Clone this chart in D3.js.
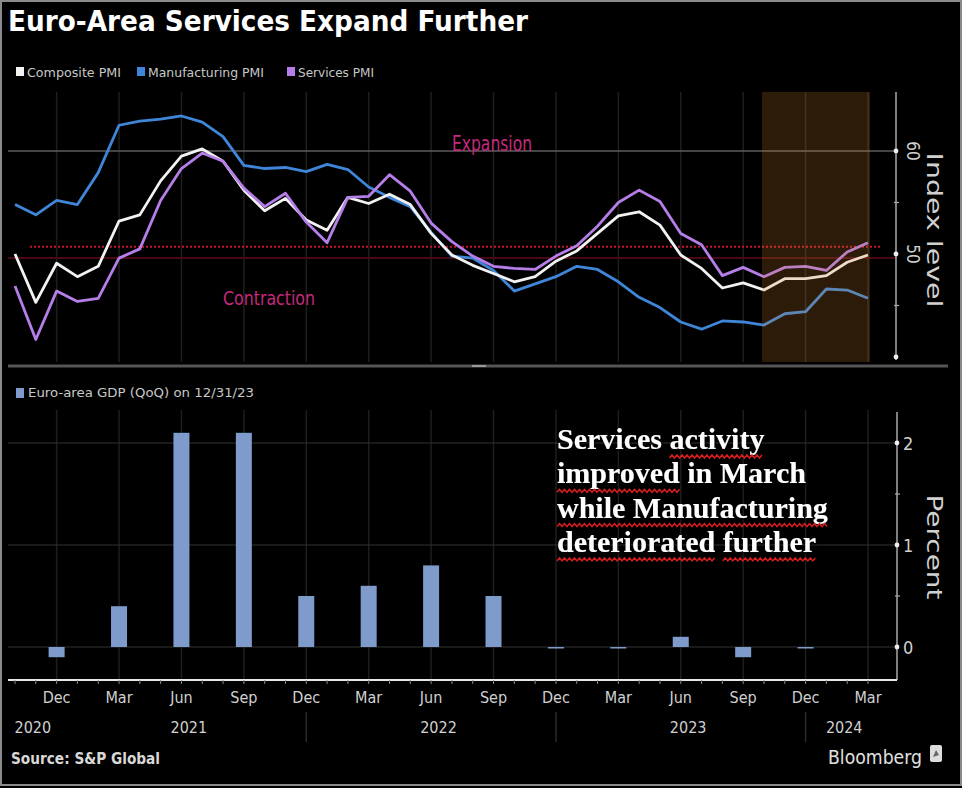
<!DOCTYPE html>
<html>
<head>
<meta charset="utf-8">
<script src="https://cdn.jsdelivr.net/npm/d3@7"></script>
<style>
  html, body { margin: 0; padding: 0; background: #000; }
  svg { display: block; }
</style>
</head>
<body>
<svg id="chart" width="962" height="788"></svg>
<script>
// ---- Data -------------------------------------------------------------
const months = [
  "2020-10","2020-11","2020-12",
  "2021-01","2021-02","2021-03","2021-04","2021-05","2021-06","2021-07","2021-08","2021-09","2021-10","2021-11","2021-12",
  "2022-01","2022-02","2022-03","2022-04","2022-05","2022-06","2022-07","2022-08","2022-09","2022-10","2022-11","2022-12",
  "2023-01","2023-02","2023-03","2023-04","2023-05","2023-06","2023-07","2023-08","2023-09","2023-10","2023-11","2023-12",
  "2024-01","2024-02","2024-03"
];
const compositePMI = [
  50.0, 45.3, 49.1,
  47.8, 48.8, 53.2, 53.8, 57.1, 59.5, 60.2, 59.0, 56.2, 54.2, 55.4, 53.3,
  52.3, 55.5, 54.9, 55.8, 54.8, 52.0, 49.9, 48.9, 48.1, 47.3, 47.8, 49.3,
  50.3, 52.0, 53.7, 54.1, 52.8, 49.9, 48.6, 46.7, 47.2, 46.5, 47.6, 47.6,
  47.9, 49.2, 49.9
];
const manufacturingPMI = [
  54.8, 53.8, 55.2,
  54.8, 57.9, 62.5, 62.9, 63.1, 63.4, 62.8, 61.4, 58.6, 58.3, 58.4, 58.0,
  58.7, 58.2, 56.5, 55.5, 54.6, 52.1, 49.8, 49.6, 48.4, 46.4, 47.1, 47.8,
  48.8, 48.5, 47.3, 45.8, 44.8, 43.4, 42.7, 43.5, 43.4, 43.1, 44.2, 44.4,
  46.6, 46.5, 45.7
];
const servicesPMI = [
  46.9, 41.7, 46.4,
  45.4, 45.7, 49.6, 50.5, 55.2, 58.3, 59.8, 59.0, 56.4, 54.6, 55.9, 53.1,
  51.1, 55.5, 55.6, 57.7, 56.1, 53.0, 51.2, 49.8, 48.8, 48.6, 48.5, 49.8,
  50.8, 52.7, 55.0, 56.2, 55.1, 52.0, 50.9, 47.9, 48.7, 47.8, 48.7, 48.8,
  48.4, 50.2, 51.1
];
const gdpQuarters = [
  "2020-12","2021-03","2021-06","2021-09","2021-12","2022-03","2022-06",
  "2022-09","2022-12","2023-03","2023-06","2023-09","2023-12"
];
const gdpQoQ = [-0.1, 0.4, 2.1, 2.1, 0.5, 0.6, 0.8, 0.5, 0.0, 0.0, 0.1, -0.1, 0.0];

const pmiTicks = [40, 45, 50, 55, 60];
const pmiLabelTicks = [50, 60];
const gdpTicks = [0, 0.5, 1, 1.5, 2];
const gdpLabelTicks = [0, 1, 2];
const quarterNames = { "03": "Mar", "06": "Jun", "09": "Sep", "12": "Dec" };
const years = ["2020", "2021", "2022", "2023", "2024"];
const highlightMonths = ["2023-10", "2024-03"];
const expansionLine = 50.7;

const seriesInfo = [
  { name: "Composite PMI", values: compositePMI, color: "#f2f2f2" },
  { name: "Manufacturing PMI", values: manufacturingPMI, color: "#3f86d8" },
  { name: "Services PMI", values: servicesPMI, color: "#b67ee8" }
];

const noteLines = [
  "Services activity",
  "improved in March",
  "while Manufacturing",
  "deteriorated further"
];
// [line, first char, last char] ranges that carry a wavy red underline
const noteSquiggles = [[0, 9, 16], [1, 0, 7], [2, 0, 18], [3, 0, 11], [3, 13, 19]];

// ---- Setup ------------------------------------------------------------
const W = 962, H = 788;
const svg = d3.select("#chart");
const narrow = "'DejaVu Sans Condensed', 'Liberation Sans Narrow', 'Roboto Condensed', sans-serif";
const plainSans = "'DejaVu Sans', 'Open Sans', sans-serif";

svg.append("rect").attr("width", W).attr("height", H).attr("fill", "#000");

const defs = svg.append("defs");
const shadow = defs.append("filter").attr("id", "txtShadow")
  .attr("x", "-5%").attr("y", "-20%").attr("width", "110%").attr("height", "140%");
shadow.append("feDropShadow").attr("dx", 1).attr("dy", 1.5)
  .attr("stdDeviation", 0.8).attr("flood-color", "#000").attr("flood-opacity", 0.9);

const x = d3.scalePoint().domain(months).range([15, 868]);
const yTop = d3.scaleLinear().domain([40, 60]).range([357, 151]);
const yBot = d3.scaleLinear().domain([0, 2]).range([647, 443]);

const topY0 = 92, topY1 = 362;
const botY0 = 410, botY1 = 680;
const axisX = 896;

const quarterMonths = months.filter(m => quarterNames[m.slice(5)]);

// ---- Title & legend ---------------------------------------------------
svg.append("text")
  .attr("x", 8).attr("y", 31)
  .attr("font-family", plainSans).attr("font-weight", "bold")
  .attr("font-size", 28).attr("fill", "#fff")
  .attr("textLength", 520).attr("lengthAdjust", "spacingAndGlyphs")
  .text("Euro-Area Services Expand Further");

const legend = svg.append("g").attr("transform", "translate(16,72)");
const legendX = [0, 121, 271];
const legendW = [94, 116, 76];
seriesInfo.forEach((s, i) => {
  const g = legend.append("g").attr("transform", `translate(${legendX[i]},0)`);
  g.append("rect").attr("x", 0).attr("y", -5).attr("width", 8).attr("height", 9).attr("fill", s.color);
  g.append("text").attr("x", 11).attr("y", 5)
    .attr("font-family", narrow).attr("font-size", 13).attr("fill", "#c8c8c8")
    .attr("textLength", legendW[i]).attr("lengthAdjust", "spacingAndGlyphs")
    .text(s.name);
});

// ---- Top panel: PMI lines --------------------------------------------
const pmiPanel = svg.append("g");

pmiPanel.selectAll("line.vgrid").data(quarterMonths).join("line")
  .attr("class", "vgrid")
  .attr("x1", d => x(d)).attr("x2", d => x(d))
  .attr("y1", topY0).attr("y2", topY1)
  .attr("stroke", "#1e1e1e").attr("stroke-width", 1.5);

pmiPanel.append("line")
  .attr("x1", 8).attr("x2", axisX).attr("y1", yTop(60)).attr("y2", yTop(60))
  .attr("stroke", "#5c5c5c").attr("stroke-width", 1.5);
pmiPanel.append("line")
  .attr("x1", 8).attr("x2", axisX).attr("y1", yTop(50) + 4).attr("y2", yTop(50) + 4)
  .attr("stroke", "#4a0812").attr("stroke-width", 2);
pmiPanel.append("line")
  .attr("x1", 30).attr("x2", 880)
  .attr("y1", yTop(expansionLine)).attr("y2", yTop(expansionLine))
  .attr("stroke", "#c8142e").attr("stroke-width", 2).attr("stroke-dasharray", "2,2");

pmiPanel.append("text").attr("x", 492).attr("y", 151).attr("text-anchor", "middle")
  .attr("font-family", narrow).attr("font-size", 21).attr("fill", "#c42a7c")
  .attr("textLength", 80).attr("lengthAdjust", "spacingAndGlyphs")
  .text("Expansion");
pmiPanel.append("text").attr("x", 269).attr("y", 305).attr("text-anchor", "middle")
  .attr("font-family", narrow).attr("font-size", 20).attr("fill", "#c42a7c")
  .attr("textLength", 92).attr("lengthAdjust", "spacingAndGlyphs")
  .text("Contraction");

const line = d3.line().x((d, i) => x(months[i])).y(d => yTop(d));
[seriesInfo[1], seriesInfo[0], seriesInfo[2]].forEach(s => {
  pmiPanel.append("path").datum(s.values)
    .attr("d", line).attr("fill", "none")
    .attr("stroke", s.color).attr("stroke-width", 2.8)
    .attr("stroke-linejoin", "round");
});

// highlighted recent months
pmiPanel.append("rect")
  .attr("x", x(highlightMonths[0]) - 2)
  .attr("width", x(highlightMonths[1]) - x(highlightMonths[0]) + 4)
  .attr("y", topY0).attr("height", topY1 - topY0)
  .attr("fill", "rgb(215,135,40)").attr("fill-opacity", 0.2);

// right axis (top)
pmiPanel.append("line").attr("x1", axisX).attr("x2", axisX).attr("y1", topY0).attr("y2", topY1 - 2)
  .attr("stroke", "#aaa").attr("stroke-width", 1.5);
pmiPanel.selectAll("g.ptick").data(pmiTicks).join("g")
  .attr("class", "ptick")
  .attr("transform", d => `translate(${axisX},${yTop(d)})`)
  .each(function (d) {
    const g = d3.select(this);
    if (d % 10 === 0) g.append("circle").attr("r", 2.4).attr("fill", "#eee");
    else g.append("line").attr("x1", -2).attr("x2", 3).attr("stroke", "#aaa").attr("stroke-width", 1.2);
  });
pmiPanel.selectAll("text.plab").data(pmiLabelTicks).join("text")
  .attr("class", "plab")
  .attr("transform", d => `translate(907,${yTop(d)}) rotate(90)`)
  .attr("text-anchor", "middle")
  .attr("font-family", narrow).attr("font-size", 17).attr("fill", "#d0d0d0")
  .text(d => d);
pmiPanel.append("text")
  .attr("transform", "translate(927,230) rotate(90)")
  .attr("text-anchor", "middle")
  .attr("font-family", plainSans).attr("font-size", 22).attr("fill", "#d0d0d0")
  .attr("textLength", 155).attr("lengthAdjust", "spacingAndGlyphs")
  .text("Index level");

// panel divider
svg.append("line").attr("x1", 8).attr("x2", 948).attr("y1", 366).attr("y2", 366)
  .attr("stroke", "#555").attr("stroke-width", 3);
svg.append("rect").attr("x", 472).attr("y", 365).attr("width", 14).attr("height", 2).attr("fill", "#999");

// ---- Bottom panel: GDP bars ------------------------------------------
const gdpPanel = svg.append("g");

gdpPanel.append("rect").attr("x", 16).attr("y", 388).attr("width", 8).attr("height", 10).attr("fill", "#7f9bcb");
gdpPanel.append("text").attr("x", 28).attr("y", 397)
  .attr("font-family", narrow).attr("font-size", 13).attr("fill", "#c8c8c8")
  .attr("textLength", 226).attr("lengthAdjust", "spacingAndGlyphs")
  .text("Euro-area GDP (QoQ) on 12/31/23");

gdpPanel.selectAll("line.vgrid").data(quarterMonths).join("line")
  .attr("class", "vgrid")
  .attr("x1", d => x(d)).attr("x2", d => x(d))
  .attr("y1", botY0).attr("y2", botY1)
  .attr("stroke", "#1e1e1e").attr("stroke-width", 1.5);
gdpPanel.selectAll("line.hgrid").data(gdpLabelTicks).join("line")
  .attr("class", "hgrid")
  .attr("x1", 8).attr("x2", axisX)
  .attr("y1", d => yBot(d)).attr("y2", d => yBot(d))
  .attr("stroke", "#333").attr("stroke-width", 1.2);

const barW = 16;
gdpPanel.selectAll("rect.bar").data(gdpQoQ).join("rect")
  .attr("class", "bar")
  .attr("x", (d, i) => x(gdpQuarters[i]) - barW / 2)
  .attr("width", barW)
  .attr("y", d => d >= 0 ? yBot(d) : yBot(0))
  .attr("height", d => Math.max(Math.abs(yBot(d) - yBot(0)), 1.5))
  .attr("fill", "#7f9bcb");

gdpPanel.append("line").attr("x1", axisX + 1).attr("x2", axisX + 1).attr("y1", botY0 + 2).attr("y2", botY1)
  .attr("stroke", "#aaa").attr("stroke-width", 1.5);
gdpPanel.selectAll("g.gtick").data(gdpTicks).join("g")
  .attr("class", "gtick")
  .attr("transform", d => `translate(${axisX + 1},${yBot(d)})`)
  .each(function (d) {
    const g = d3.select(this);
    if (Number.isInteger(d)) g.append("circle").attr("r", 2.4).attr("fill", "#eee");
    else g.append("line").attr("x1", -2).attr("x2", 3).attr("stroke", "#aaa").attr("stroke-width", 1.2);
  });
gdpPanel.selectAll("text.glab").data(gdpLabelTicks).join("text")
  .attr("class", "glab")
  .attr("x", 903).attr("y", d => yBot(d) + 7)
  .attr("font-family", narrow).attr("font-size", 18).attr("fill", "#d0d0d0")
  .text(d => d);
gdpPanel.append("text")
  .attr("transform", "translate(927,547) rotate(90)")
  .attr("text-anchor", "middle")
  .attr("font-family", plainSans).attr("font-size", 22).attr("fill", "#d0d0d0")
  .attr("textLength", 105).attr("lengthAdjust", "spacingAndGlyphs")
  .text("Percent");

// annotation
const note = gdpPanel.append("g").attr("filter", "url(#txtShadow)");
const noteTexts = noteLines.map((t, i) =>
  note.append("text")
    .attr("x", 557).attr("y", 449 + i * 34.3)
    .attr("font-family", "'Liberation Serif', 'Times New Roman', serif")
    .attr("font-weight", "bold").attr("font-size", 30).attr("fill", "#fff")
    .text(t));
noteSquiggles.forEach(([li, a, b]) => {
  const node = noteTexts[li].node();
  const x0 = node.getStartPositionOfChar(a).x;
  const x1 = node.getEndPositionOfChar(b).x;
  const yb = 449 + li * 34.3 + 7.5;
  const pts = [];
  let k = 0;
  for (let xx = x0; xx <= x1; xx += 2.5, k++) pts.push([xx, yb + (k % 2 ? -1.5 : 1.5)]);
  gdpPanel.append("path").attr("d", d3.line()(pts))
    .attr("fill", "none").attr("stroke", "#d81e1e").attr("stroke-width", 1.5);
});

// ---- X axis ----------------------------------------------------------
const xa = svg.append("g");
xa.append("line").attr("x1", 8).attr("x2", axisX + 1).attr("y1", botY1).attr("y2", botY1)
  .attr("stroke", "#e8e8e8").attr("stroke-width", 2);
xa.selectAll("line.mt").data(months).join("line")
  .attr("class", "mt")
  .attr("x1", d => x(d)).attr("x2", d => x(d))
  .attr("y1", botY1).attr("y2", botY1 + 4)
  .attr("stroke", "#888").attr("stroke-width", 1);
xa.selectAll("text.ql").data(quarterMonths).join("text")
  .attr("class", "ql")
  .attr("x", d => x(d)).attr("y", 703).attr("text-anchor", "middle")
  .attr("font-family", narrow).attr("font-size", 16).attr("fill", "#d0d0d0")
  .text(d => quarterNames[d.slice(5)]);

const yearCenter = yr => {
  const ms = months.filter(m => m.startsWith(yr));
  return (x(ms[0]) + x(ms[ms.length - 1])) / 2;
};
xa.selectAll("text.yl").data(years).join("text")
  .attr("class", "yl")
  .attr("x", d => yearCenter(d) - 3).attr("y", 733).attr("text-anchor", "middle")
  .attr("font-family", narrow).attr("font-size", 16).attr("fill", "#d0d0d0")
  .text(d => d);
xa.selectAll("line.ysep").data(years.slice(1, 4)).join("line")
  .attr("class", "ysep")
  .attr("x1", d => x(d + "-12")).attr("x2", d => x(d + "-12"))
  .attr("y1", 712).attr("y2", 742)
  .attr("stroke", "#2a2a2a").attr("stroke-width", 1.5);

// ---- Footer -----------------------------------------------------------
svg.append("text").attr("x", 11).attr("y", 764)
  .attr("font-family", narrow).attr("font-weight", "bold").attr("font-size", 15).attr("fill", "#d8d8d8")
  .attr("textLength", 149).attr("lengthAdjust", "spacingAndGlyphs")
  .text("Source: S&P Global");
svg.append("text").attr("x", 922).attr("y", 764).attr("text-anchor", "end")
  .attr("font-family", narrow).attr("font-size", 19).attr("fill", "#e0e0e0")
  .attr("textLength", 94).attr("lengthAdjust", "spacingAndGlyphs")
  .text("Bloomberg");
svg.append("rect").attr("x", 930).attr("y", 745).attr("width", 12).attr("height", 17).attr("rx", 2).attr("fill", "#ddd");
svg.append("path").attr("d", "M933,757 L936,750 L939,755 Z").attr("fill", "#666");

// frame
svg.append("rect").attr("x", 1).attr("y", 1).attr("width", W - 2).attr("height", H - 4)
  .attr("fill", "none").attr("stroke", "#8a8a8a").attr("stroke-width", 2);
</script>
</body>
</html>
